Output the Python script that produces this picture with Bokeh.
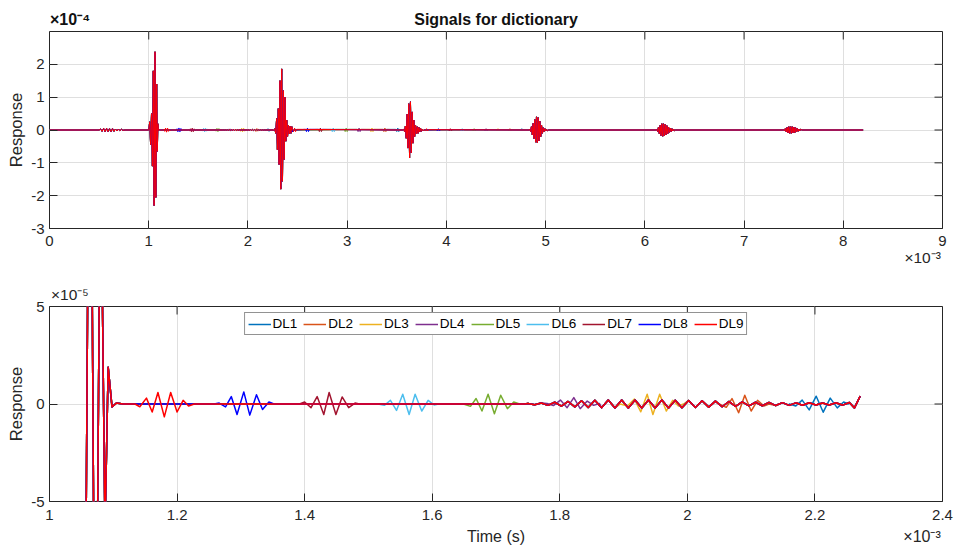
import math
from bokeh.plotting import figure
from bokeh.layouts import column
from bokeh.models import Range1d, LinearAxis, FixedTicker, Grid, Legend, LegendItem
from bokeh.embed import file_html
from bokeh.resources import INLINE

FONT = "Liberation Sans"
INK = "#262626"
GRID = "#DFDFDF"

SERIES = ["DL1", "DL2", "DL3", "DL4", "DL5", "DL6", "DL7", "DL8", "DL9"]
COLORS = ["#0072BD", "#D95319", "#EDB120", "#7E2F8E", "#77AC30",
          "#4DBEEE", "#A2142F", "#0000FF", "#FF0000"]

# ---- common part of all signals: time in ms, response in units of 1e-4 ----
EARLY_T_MS = [0.0, 0.500, 0.515, 0.530, 0.545, 0.560, 0.575, 0.590, 0.605, 0.620,
              0.635, 0.650, 0.665, 0.680, 0.695, 0.710, 0.725, 0.740, 0.760,
              1.000, 1.010, 1.019, 1.028, 1.037, 1.046, 1.054, 1.0635, 1.072,
              1.080, 1.087, 1.092]
EARLY_R_E4 = [0.0, 0.0, 0.03, -0.04, 0.05, -0.05, 0.05, -0.05, 0.04, -0.05,
              0.04, -0.04, 0.03, -0.03, 0.03, -0.02, 0.02, -0.01, 0.0,
              0.0, 0.25, -0.45, 0.5, -1.1, 1.8, -2.3, 2.38, -2.05,
              1.4, -0.65, 0.188]

# ---- common part between the first two bursts: response in units of 1e-5 ----
MID_T_MS = [1.098, 1.105, 1.115, 1.745,
            1.750, 1.7605, 1.771, 1.7815, 1.792, 1.8025, 1.813, 1.8235, 1.834, 1.8445,
            1.855, 1.8655, 1.876, 1.8865, 1.897, 1.9075, 1.918, 1.9285, 1.939, 1.9495,
            1.960, 1.9705, 1.981, 1.9915, 2.002, 2.0125, 2.023, 2.0335, 2.044, 2.0545,
            2.065, 2.0755, 2.086, 2.0965, 2.107, 2.1175, 2.128, 2.1385, 2.149, 2.1595,
            2.170, 2.1805, 2.191, 2.2015, 2.212, 2.2225, 2.233, 2.2435, 2.254,
            2.262, 2.271]
MID_R_E5 = [-0.15, 0.05, 0.0, 0.0,
            0.03, -0.04, 0.05, -0.07, 0.09, -0.11, 0.13, -0.15, 0.17, -0.18,
            0.19, -0.19, 0.20, -0.20, 0.20, -0.20, 0.20, -0.20, 0.20, -0.20,
            0.20, -0.20, 0.19, -0.19, 0.18, -0.18, 0.17, -0.16, 0.15, -0.14,
            0.13, -0.12, 0.11, -0.10, 0.09, -0.09, 0.08, -0.08, 0.07, -0.07,
            0.06, -0.06, 0.06, -0.05, 0.05, -0.05, 0.06, -0.06, 0.08,
            -0.20, 0.40]

# ---- later bursts (common), response in units of 1e-4 ----
BURST2_T_MS = [2.280, 2.289, 2.297, 2.306, 2.314, 2.323, 2.331, 2.340, 2.348, 2.357,
               2.365, 2.374, 2.382, 2.391, 2.399, 2.408, 2.416, 2.425, 2.433, 2.442,
               2.450, 2.460]
BURST2_R_E4 = [-0.1, 0.35, -0.6, 0.65, -1.05, 1.5, -1.8, 1.86, -1.56, 1.2,
               -0.9, 1.0, -0.34, 0.3, -0.2, 0.15, -0.12, 0.12, -0.1, 0.1,
               -0.06, 0.0]
BURST3_T_MS = [3.570, 3.578, 3.587, 3.595, 3.604, 3.612, 3.621, 3.629, 3.638, 3.646,
               3.655, 3.663, 3.672, 3.680, 3.689, 3.697, 3.706, 3.714, 3.723, 3.731,
               3.740, 3.748, 3.757, 3.765, 3.775]
BURST3_R_E4 = [0.02, -0.05, 0.12, -0.25, 0.48, -0.55, 0.8, -0.85, 0.86, -0.7,
               0.55, -0.4, 0.3, -0.2, 0.15, -0.12, 0.1, -0.1, 0.08, -0.06,
               0.05, -0.04, 0.03, -0.02, 0.0]
BURST4_T_MS = [4.840, 4.849, 4.857, 4.866, 4.874, 4.883, 4.891, 4.900, 4.908, 4.917,
               4.925, 4.934, 4.942, 4.951, 4.959, 4.968, 4.976, 4.985, 4.993, 5.002,
               5.010, 5.019, 5.030]
BURST4_R_E4 = [0.02, -0.05, 0.1, -0.15, 0.2, -0.26, 0.32, -0.37, 0.4, -0.39,
               0.38, -0.33, 0.27, -0.2, 0.15, -0.1, 0.07, -0.05, 0.04, -0.03,
               0.02, -0.02, 0.0]
BURST5_T_MS = [6.120, 6.129, 6.137, 6.146, 6.154, 6.163, 6.171, 6.180, 6.188, 6.197,
               6.205, 6.214, 6.222, 6.231, 6.239, 6.248, 6.256, 6.265, 6.273, 6.282,
               6.290, 6.299, 6.310]
BURST5_R_E4 = [0.02, -0.05, 0.08, -0.11, 0.14, -0.17, 0.19, -0.19, 0.19, -0.18,
               0.17, -0.15, 0.13, -0.11, 0.09, -0.07, 0.06, -0.05, 0.04, -0.03,
               0.03, -0.02, 0.0]
BURST6_T_MS = [7.400, 7.409, 7.417, 7.426, 7.434, 7.443, 7.451, 7.460, 7.468, 7.477,
               7.485, 7.494, 7.502, 7.511, 7.519, 7.528, 7.536, 7.545, 7.553, 7.562,
               7.570, 7.585]
BURST6_R_E4 = [0.01, -0.03, 0.05, -0.06, 0.08, -0.09, 0.1, -0.1, 0.1, -0.1,
               0.1, -0.09, 0.09, -0.08, 0.07, -0.06, 0.05, -0.04, 0.03, -0.03,
               0.02, 0.0]
FLAT_T_MS = [3.560, 4.835, 6.115, 7.395, 8.200]

# ---- packet of each dictionary signal (DL1..DL9), response in units of 1e-5 ----
PK_T_MS = [
    [2.160, 2.170, 2.180, 2.191, 2.202, 2.213, 2.224, 2.235, 2.245, 2.252],
    [2.050, 2.061, 2.070, 2.0804, 2.090, 2.100, 2.110, 2.120, 2.128],
    [1.895, 1.906, 1.917, 1.927, 1.937, 1.946, 1.9566, 1.967, 1.977, 1.986, 1.994],
    [1.780, 1.790, 1.801, 1.8115, 1.822, 1.832, 1.843, 1.853, 1.862],
    [1.649, 1.660, 1.6688, 1.678, 1.6876, 1.6975, 1.7074, 1.7179, 1.7278, 1.737],
    [1.515, 1.525, 1.5345, 1.544, 1.5538, 1.5638, 1.5732, 1.5836, 1.5936, 1.603, 1.610],
    [1.392, 1.400, 1.410, 1.4196, 1.430, 1.4384, 1.449, 1.4588, 1.469, 1.479, 1.486],
    [1.258, 1.266, 1.276, 1.285, 1.294, 1.3046, 1.314, 1.3245, 1.334, 1.344, 1.352],
    [1.134, 1.1416, 1.152, 1.161, 1.170, 1.180, 1.190, 1.200, 1.2095, 1.218, 1.227],
]
PK_R_E5 = [
    [0.0, -0.1, 0.2, -0.3, 0.4, -0.42, 0.3, -0.2, 0.1, 0.0],
    [0.0, -0.17, 0.28, -0.45, 0.45, -0.36, 0.19, -0.1, 0.0],
    [0.0, -0.1, 0.25, -0.4, 0.5, -0.54, 0.5, -0.36, 0.19, -0.1, 0.0],
    [0.03, -0.08, 0.2, -0.19, 0.33, -0.24, 0.15, -0.07, 0.03],
    [0.0, -0.12, 0.28, -0.36, 0.5, -0.5, 0.45, -0.24, 0.1, 0.0],
    [0.0, -0.07, 0.19, -0.33, 0.5, -0.54, 0.5, -0.36, 0.19, -0.05, 0.0],
    [0.0, 0.1, -0.19, 0.38, -0.54, 0.59, -0.54, 0.36, -0.19, 0.05, 0.0],
    [0.0, 0.05, -0.15, 0.38, -0.54, 0.62, -0.57, 0.47, -0.28, 0.1, 0.0],
    [0.0, -0.14, 0.3, -0.41, 0.59, -0.66, 0.59, -0.41, 0.19, -0.1, 0.0],
]

# ---- small echoes of each packet after bursts 2 and 3 (units of 1e-4) ----
ECHO_A_CENTER_MS = [3.51, 3.38, 3.25, 3.12, 2.99, 2.86, 2.73, 2.60, 2.47]
ECHO_B_CENTER_MS = [4.76, 4.64, 4.52, 4.40, 4.28, 4.16, 4.04, 3.92, 3.80]
ECHO_OFFSET_MS = [-0.02, -0.01, 0.0, 0.01, 0.02]
ECHO_A_R_E4 = [0.02, -0.05, 0.06, -0.05, 0.02]
ECHO_B_R_E4 = [0.01, -0.03, 0.04, -0.03, 0.01]

TOP_XRANGE = (0, 9)
TOP_YRANGE = (-3, 3)
TOP_XTICKS = [0, 1, 2, 3, 4, 5, 6, 7, 8, 9]
TOP_XLABELS = ["0", "1", "2", "3", "4", "5", "6", "7", "8", "9"]
TOP_YTICKS = [-3, -2, -1, 0, 1, 2]
TOP_YLABELS = ["-3", "-2", "-1", "0", "1", "2"]
BOT_XRANGE = (1, 2.4)
BOT_YRANGE = (-5, 5)
BOT_XTICKS = [1, 1.2, 1.4, 1.6, 1.8, 2, 2.2, 2.4]
BOT_XLABELS = ["1", "1.2", "1.4", "1.6", "1.8", "2", "2.2", "2.4"]
BOT_YTICKS = [-5, 0, 5]
BOT_YLABELS = ["-5", "0", "5"]
BOT_WINDOW_MS = (1.054, 2.271)

TITLE = "Signals for dictionary"
Y_LABEL = "Response"
X_LABEL = "Time (s)"
EXP_X = "×10⁻³"
EXP_Y_TOP = "×10⁻⁴"
EXP_Y_BOT = "×10⁻⁵"


def splice(base, seg):
    lo = min(t for t, _ in seg)
    hi = max(t for t, _ in seg)
    out = [p for p in base if p[0] < lo or p[0] > hi] + list(seg)
    out.sort()
    return out


base = list(zip(EARLY_T_MS, [r * 10 for r in EARLY_R_E4]))
base += list(zip(MID_T_MS, MID_R_E5))
for bt, br in [(BURST2_T_MS, BURST2_R_E4), (BURST3_T_MS, BURST3_R_E4),
               (BURST4_T_MS, BURST4_R_E4), (BURST5_T_MS, BURST5_R_E4),
               (BURST6_T_MS, BURST6_R_E4)]:
    base += list(zip(bt, [r * 10 for r in br]))
base += [(t, 0.0) for t in FLAT_T_MS]
base.sort()

signals = []
for i in range(len(SERIES)):
    s = splice(base, list(zip(PK_T_MS[i], PK_R_E5[i])))
    s = splice(s, [(ECHO_A_CENTER_MS[i] + o, r * 10) for o, r in zip(ECHO_OFFSET_MS, ECHO_A_R_E4)])
    s = splice(s, [(ECHO_B_CENTER_MS[i] + o, r * 10) for o, r in zip(ECHO_OFFSET_MS, ECHO_B_R_E4)])
    signals.append(s)


def tick_axis(ticks, labels, standoff):
    ax = LinearAxis(ticker=FixedTicker(ticks=ticks),
                    major_label_overrides=dict(zip(ticks, labels)))
    ax.axis_line_color = None
    ax.major_tick_in = 8
    ax.major_tick_out = 0
    ax.major_tick_line_color = INK
    ax.major_tick_line_width = 1
    ax.minor_tick_line_color = None
    ax.major_label_standoff = standoff
    ax.major_label_text_font = FONT
    ax.major_label_text_font_size = "15px"
    ax.major_label_text_color = INK
    ax.axis_label_text_font = FONT
    ax.axis_label_text_font_style = "normal"
    ax.axis_label_text_font_size = "16.5px"
    ax.axis_label_text_color = INK
    return ax


def text_axis(ticks, labels, standoff, size, style="normal", color=INK):
    ax = LinearAxis(ticker=FixedTicker(ticks=ticks),
                    major_label_overrides=dict(zip(ticks, labels)))
    ax.axis_line_color = None
    ax.major_tick_line_color = None
    ax.minor_tick_line_color = None
    ax.major_tick_in = 0
    ax.major_tick_out = 0
    ax.major_label_standoff = standoff
    ax.major_label_text_font = FONT
    ax.major_label_text_font_size = size
    ax.major_label_text_font_style = style
    ax.major_label_text_color = color
    return ax


def make_fig(height, xr, yr, xt, xl, yt, yl, mb_top, mb_bottom, xstand):
    p = figure(width=955, height=height, x_range=Range1d(*xr), y_range=Range1d(*yr),
               output_backend="svg", toolbar_location=None, title=None,
               x_axis_type=None, y_axis_type=None,
               min_border_left=49, min_border_right=13,
               min_border_top=mb_top, min_border_bottom=mb_bottom)
    p.outline_line_color = INK
    p.outline_line_width = 1
    p.outline_line_alpha = 1
    p.background_fill_color = "white"
    p.border_fill_color = "white"
    xax = tick_axis(xt, xl, xstand)
    yax = tick_axis(yt, yl, 5)
    yax.axis_label = Y_LABEL
    yax.axis_label_standoff = 3
    p.add_layout(xax, "below")
    p.add_layout(yax, "left")
    p.add_layout(Grid(dimension=0, ticker=xax.ticker, grid_line_color=GRID, grid_line_width=1))
    p.add_layout(Grid(dimension=1, ticker=yax.ticker, grid_line_color=GRID, grid_line_width=1))
    # tick marks on the top and right edges of the box
    p.ray(x=xt, y=[yr[1]] * len(xt), length=8, length_units="screen",
          angle=-math.pi / 2, line_color=INK, line_width=1)
    p.ray(x=[xr[1]] * len(yt), y=yt, length=8, length_units="screen",
          angle=math.pi, line_color=INK, line_width=1)
    return p


# ---------------- top panel ----------------
p1 = make_fig(272, TOP_XRANGE, TOP_YRANGE, TOP_XTICKS, TOP_XLABELS, TOP_YTICKS, TOP_YLABELS,
              mb_top=31, mb_bottom=44, xstand=7)
for name, color, s in zip(SERIES, COLORS, signals):
    p1.line([t for t, _ in s], [r / 10 for _, r in s], color=color, line_width=1.0)
p1.add_layout(text_axis([0.207, 4.5], [EXP_Y_TOP, TITLE], 4, "16px", "bold", "#111111"), "above")
p1.add_layout(text_axis([8.8], [EXP_X], 0, "15.5px"), "below")

# ---------------- bottom panel ----------------
p2 = make_fig(279, BOT_XRANGE, BOT_YRANGE, BOT_XTICKS, BOT_XLABELS, BOT_YTICKS, BOT_YLABELS,
              mb_top=34, mb_bottom=50, xstand=8)
renderers = []
for name, color, s in zip(SERIES, COLORS, signals):
    seg = [(t, r) for t, r in s if BOT_WINDOW_MS[0] <= t <= BOT_WINDOW_MS[1]]
    r = p2.line([t for t, _ in seg], [v for _, v in seg], color=color, line_width=1.5,
                line_join="round")
    renderers.append(r)
legend = Legend(items=[LegendItem(label=n, renderers=[r]) for n, r in zip(SERIES, renderers)],
                orientation="horizontal", location="top_center", margin=6, padding=3,
                spacing=6, glyph_width=23, glyph_height=14, label_standoff=2,
                label_height=14, label_text_font=FONT, label_text_font_size="13.5px",
                label_text_color="#000000", border_line_color=INK, border_line_width=1,
                background_fill_color="white", background_fill_alpha=1)
p2.add_layout(legend)
p2.add_layout(text_axis([1.032], [EXP_Y_BOT], 4, "15.5px"), "above")
p2.add_layout(text_axis([1.7, 2.368], [X_LABEL, EXP_X], 5, "16px"), "below")

layout = column(p1, p2, spacing=0)
open("out.html", "w").write(file_html(layout, INLINE))
